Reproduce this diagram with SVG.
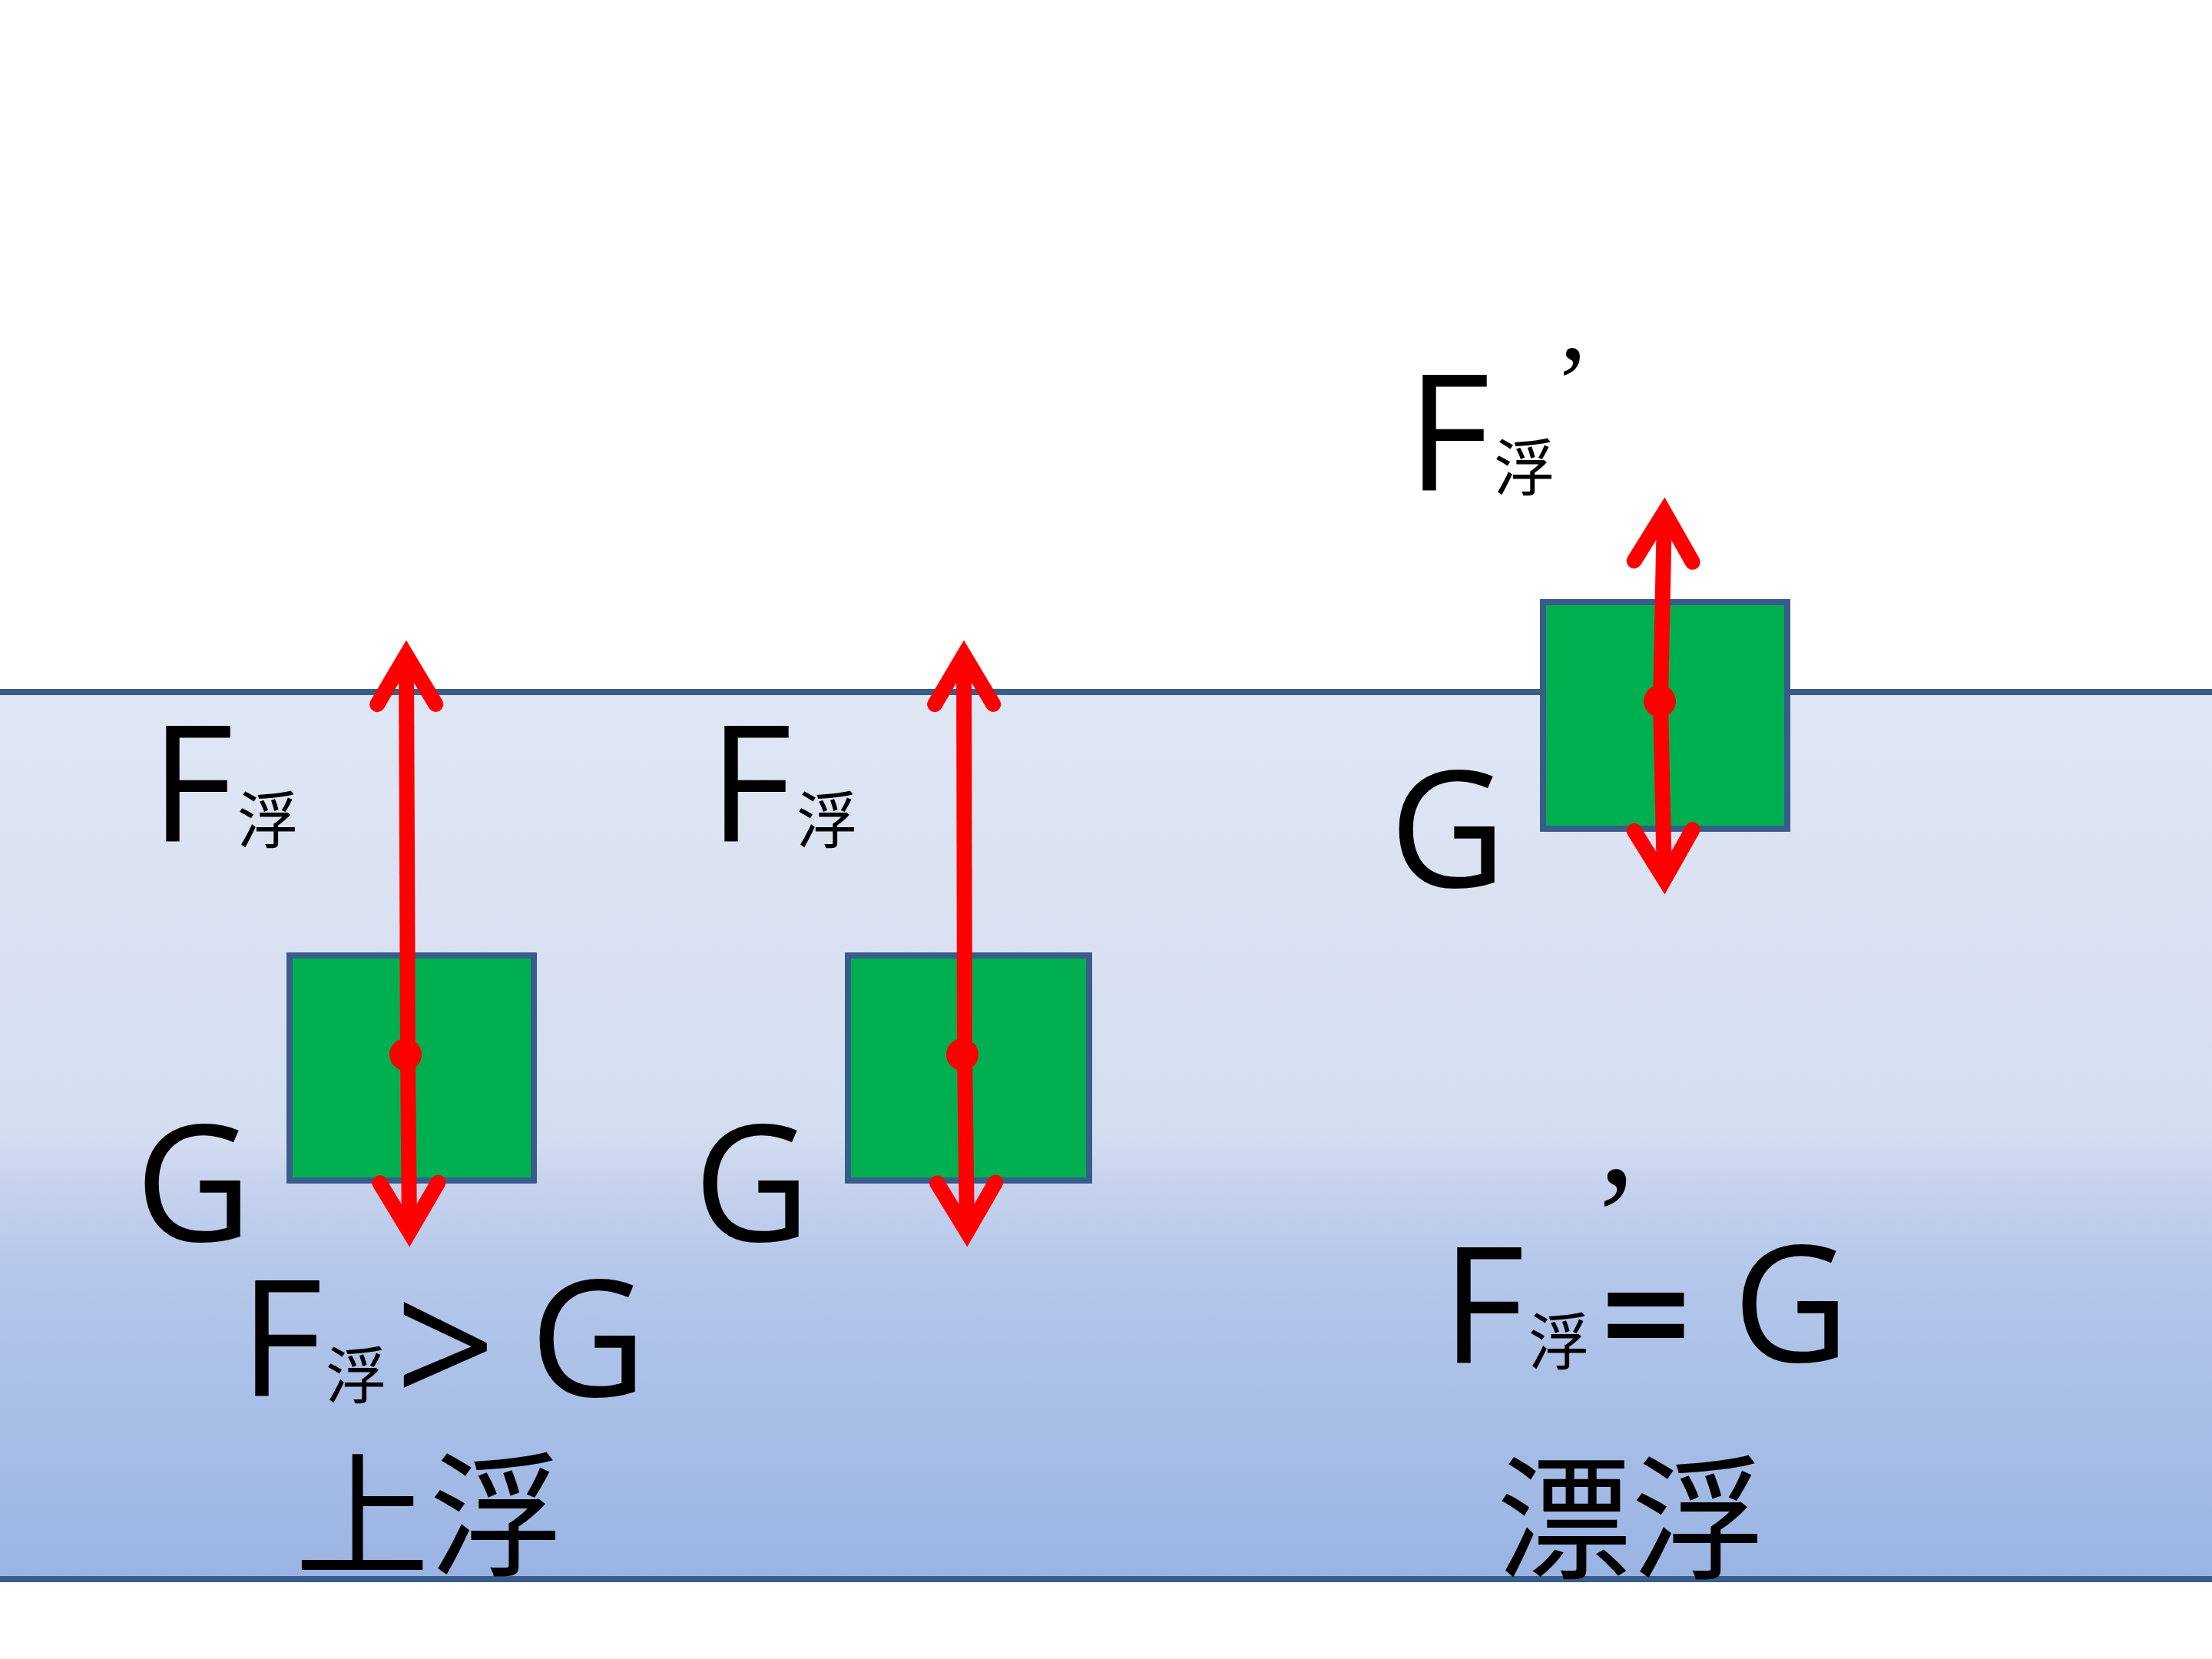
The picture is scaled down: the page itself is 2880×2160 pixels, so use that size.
<svg xmlns="http://www.w3.org/2000/svg" width="2880" height="2160" viewBox="0 0 2880 2160">
  <style>
    .edge { stroke: #385d8a; stroke-width: 8; fill: none; }
    .box { fill: #00b050; stroke: #385d8a; stroke-width: 8; }
    .force { stroke: #ff0000; stroke-width: 20; fill: none; stroke-linecap: butt; }
    .dot { fill: #ff0000; }
    .lat { font-family: "Open Sans", "Liberation Sans", sans-serif; font-size: 210px; fill: #000; text-anchor: middle; }
    .quo { font-family: "Liberation Serif", "DejaVu Serif", serif; fill: #000; text-anchor: middle; }
    .sub { font-family: "Noto Sans CJK SC", sans-serif; font-size: 80px; fill: #000; text-anchor: middle; }
    .big { font-family: "Noto Sans CJK SC", sans-serif; font-size: 175px; fill: #000; text-anchor: middle; }
  </style>
  <defs>
    <linearGradient id="water" gradientUnits="userSpaceOnUse" x1="0" y1="901" x2="0" y2="2056">
      <stop offset="0" stop-color="#dfe6f4"/>
      <stop offset="0.5" stop-color="#d4ddf0"/>
      <stop offset="0.56" stop-color="#c5d2ed"/>
      <stop offset="0.65" stop-color="#b5c7ea"/>
      <stop offset="1" stop-color="#9ab4e3"/>
    </linearGradient>
    <marker id="ah" markerUnits="userSpaceOnUse" viewBox="-100 -60 120 120" refX="0" refY="0" markerWidth="120" markerHeight="120" orient="auto" overflow="visible">
      <path d="M -64 -38 L 0 0 L -64 38" fill="none" stroke="#ff0000" stroke-width="20" stroke-linecap="round" stroke-linejoin="miter" stroke-miterlimit="10"/>
    </marker>
  </defs>

  <rect x="0" y="0" width="2880" height="2160" fill="#ffffff"/>

  <g id="water-region">
    <rect x="0" y="901" width="2880" height="1155" fill="url(#water)"/>
    <line class="edge" x1="0" y1="901" x2="2880" y2="901"/>
    <line class="edge" x1="0" y1="2056" x2="2880" y2="2056"/>
  </g>

  <g id="block1">
    <rect class="box" x="377" y="1244" width="318" height="293"/>
  </g>
  <g id="block2">
    <rect class="box" x="1104" y="1244" width="314" height="293"/>
  </g>
  <g id="block3">
    <rect class="box" x="2009" y="784" width="318" height="295"/>
  </g>

  <g id="connectors">
    <line class="force" x1="531" y1="1373" x2="529" y2="853" marker-end="url(#ah)"/>
    <line class="force" x1="531" y1="1373" x2="533" y2="1604" marker-end="url(#ah)"/>
    <circle class="dot" cx="528" cy="1373" r="21"/>

    <line class="force" x1="1256" y1="1373" x2="1255" y2="853" marker-end="url(#ah)"/>
    <line class="force" x1="1256" y1="1373" x2="1259" y2="1604" marker-end="url(#ah)"/>
    <circle class="dot" cx="1253" cy="1373" r="21"/>

    <line class="force" x1="2162" y1="913" x2="2167" y2="667" marker-end="url(#ah)"/>
    <line class="force" x1="2162" y1="913" x2="2167" y2="1145" marker-end="url(#ah)"/>
    <circle class="dot" cx="2161" cy="913" r="21"/>
  </g>

  <g id="labels1">
    <text class="lat" x="250" y="1096">F</text>
    <text class="sub" x="349" y="1097">浮</text>
    <text class="lat" x="252" y="1616">G</text>
  </g>
  <g id="labels2">
    <text class="lat" x="977" y="1096">F</text>
    <text class="sub" x="1077" y="1097">浮</text>
    <text class="lat" x="979" y="1616">G</text>
  </g>
  <g id="labels3">
    <text class="lat" x="1886" y="639">F</text>
    <text class="sub" x="1985" y="638">浮</text>
    <text class="quo" x="2047" y="546" style="font-size:140px">’</text>
    <text class="lat" x="1885" y="1155">G</text>
  </g>

  <g id="result-rise">
    <text class="lat" x="366" y="1818">F</text>
    <text class="sub" x="464" y="1820">浮</text>
    <text class="lat" x="580" y="1834" style="font-size:230px">&gt;</text>
    <text class="lat" x="766" y="1818">G</text>
    <text class="big" x="559" y="2038">上浮</text>
  </g>

  <g id="result-float">
    <text class="quo" x="2104" y="1649" style="font-size:190px">’</text>
    <text class="lat" x="1931" y="1775">F</text>
    <text class="sub" x="2030" y="1776">浮</text>
    <text class="lat" x="2143" y="1787" style="font-weight:600">=</text>
    <text class="lat" x="2332" y="1773">G</text>
    <text class="big" x="2124" y="2042">漂浮</text>
  </g>
</svg>
